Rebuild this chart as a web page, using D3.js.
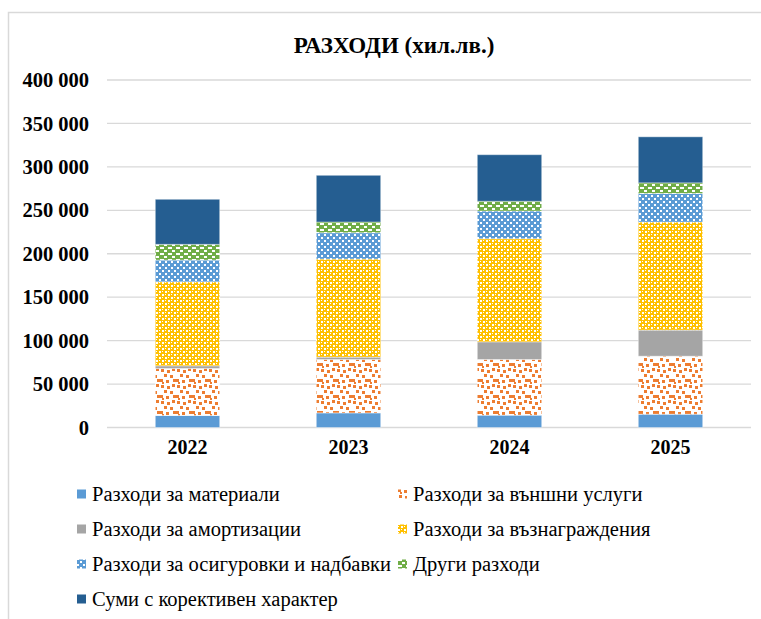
<!DOCTYPE html>
<html><head><meta charset="utf-8">
<script src="https://cdn.jsdelivr.net/npm/d3@7"></script>
<style>body{margin:0;background:#fff}svg{display:block}</style>
</head><body>
<svg id="c" width="761" height="619"></svg>
<script>
const years = ["2022","2023","2024","2025"];
const seriesNames = ["Разходи за материали","Разходи за външни услуги","Разходи за амортизации","Разходи за възнаграждения","Разходи за осигуровки и надбавки","Други разходи","Суми с корективен характер"];
const materials   = [13800, 16800, 14200, 15300];
const external    = [54200, 61500, 64100, 66800];
const amortization= [3000, 2700, 20300, 30000];
const wages       = [96700, 112900, 118700, 124400];
const insurance   = [25000, 30300, 31900, 32900];
const other       = [18100, 12300, 11200, 12200];
const corrective  = [51900, 53800, 53600, 53000];
const yTicks = [0,50000,100000,150000,200000,250000,300000,350000,400000];
const title = "РАЗХОДИ (хил.лв.)";

const values = [materials, external, amortization, wages, insurance, other, corrective];
const keys = seriesNames;
const table = years.map((y,i)=>{const o={year:y}; keys.forEach((k,j)=>o[k]=values[j][i]); return o;});

const svg = d3.select("#c");
const defs = svg.append("defs");
const FONT = "'Liberation Serif','Times New Roman',serif";

function pat(id, w, h, bg, fg, rects){
  const p = defs.append("pattern").attr("id",id).attr("patternUnits","userSpaceOnUse").attr("width",w).attr("height",h);
  p.append("rect").attr("width",w).attr("height",h).attr("fill",bg);
  rects.forEach(r=>p.append("rect").attr("x",r[0]).attr("y",r[1]).attr("width",r[2]).attr("height",r[3]).attr("fill",fg));
}
pat("pExt",16,16,"#fff","#ED7D31",[[1,1,3,3],[7,2,3,3],[12,0,3,3],[4,6,3,3],[10,7,3,3],[0,11,3,3],[6,12,3,3],[13,11,3,3],[2,14,2,2]]);
pat("pWag",6,6,"#FFC000","#fff",[[0,0,2,2],[3,0,1,1],[0,3,1,1],[3,3,2,2]]);
pat("pIns",6,6,"#5B9BD5","#fff",[[0,0,2,2],[3,3,2,2]]);
pat("pOth",8,6,"#70AD47","#fff",[[0,1,4,2],[4,4,3,2]]);

const fills = ["#5B9BD5","url(#pExt)","#A5A5A5","url(#pWag)","url(#pIns)","url(#pOth)","#255E91"];

svg.append("rect").attr("x",8.5).attr("y",12.5).attr("width",800).attr("height",700)
  .attr("fill","#fff").attr("stroke","#d9d9d9").attr("stroke-width",1.5);

const x = d3.scaleBand().domain(years).range([107,751]).paddingInner(0.6).paddingOuter(0.3);
const y = d3.scaleLinear().domain([0,400000]).range([427.5,80]);

svg.append("g").selectAll("line").data(yTicks).join("line")
  .attr("x1",107).attr("x2",751).attr("y1",d=>y(d)).attr("y2",d=>y(d))
  .attr("stroke","#d9d9d9").attr("stroke-width",1.3);

const fmt = d => d3.format(",")(d).replace(/,/g," ");
const yAxis = svg.append("g").attr("transform","translate(89,0)")
  .call(d3.axisLeft(y).tickValues(yTicks).tickFormat(fmt).tickSize(0).tickPadding(0));
yAxis.select(".domain").remove();
yAxis.selectAll("text").attr("font-family",FONT).attr("font-weight","bold").attr("font-size",20.5).attr("fill","#000");

const xAxis = svg.append("g").attr("transform","translate(0,440)")
  .call(d3.axisBottom(x).tickSize(0).tickPadding(0));
xAxis.select(".domain").remove();
xAxis.selectAll("text").attr("font-family",FONT).attr("font-weight","bold").attr("font-size",20).attr("fill","#000");

const stack = d3.stack().keys(keys)(table);
svg.append("g").selectAll("g").data(stack).join("g")
  .attr("fill",(d,i)=>fills[i])
  .selectAll("rect").data(d=>d).join("rect")
  .attr("x",d=>x(d.data.year)).attr("width",x.bandwidth())
  .attr("y",d=>y(d[1])).attr("height",d=>y(d[0])-y(d[1]))
  .attr("stroke","#ffffff").attr("stroke-opacity",0.4).attr("stroke-width",1);

svg.append("text").attr("x",394).attr("y",53).attr("text-anchor","middle")
  .attr("font-family",FONT).attr("font-weight","bold").attr("font-size",23).text(title);

const pos = [[77,494],[398,494],[77,529],[398,529],[77,564],[398,564],[77,599]];
const lg = svg.append("g").selectAll("g").data(keys).join("g")
  .attr("transform",(d,i)=>`translate(${pos[i][0]},${pos[i][1]})`);
lg.append("rect").attr("x",0).attr("y",-4.5).attr("width",9).attr("height",9).attr("fill",(d,i)=>fills[i]);
lg.append("text").attr("x",(d,i)=>i%2===0 && i<6 ? 15 : 15).attr("y",0).attr("dy","0.35em")
  .attr("font-family",FONT).attr("font-size",20.5).attr("fill","#000").text(d=>d);
</script>
</body></html>
